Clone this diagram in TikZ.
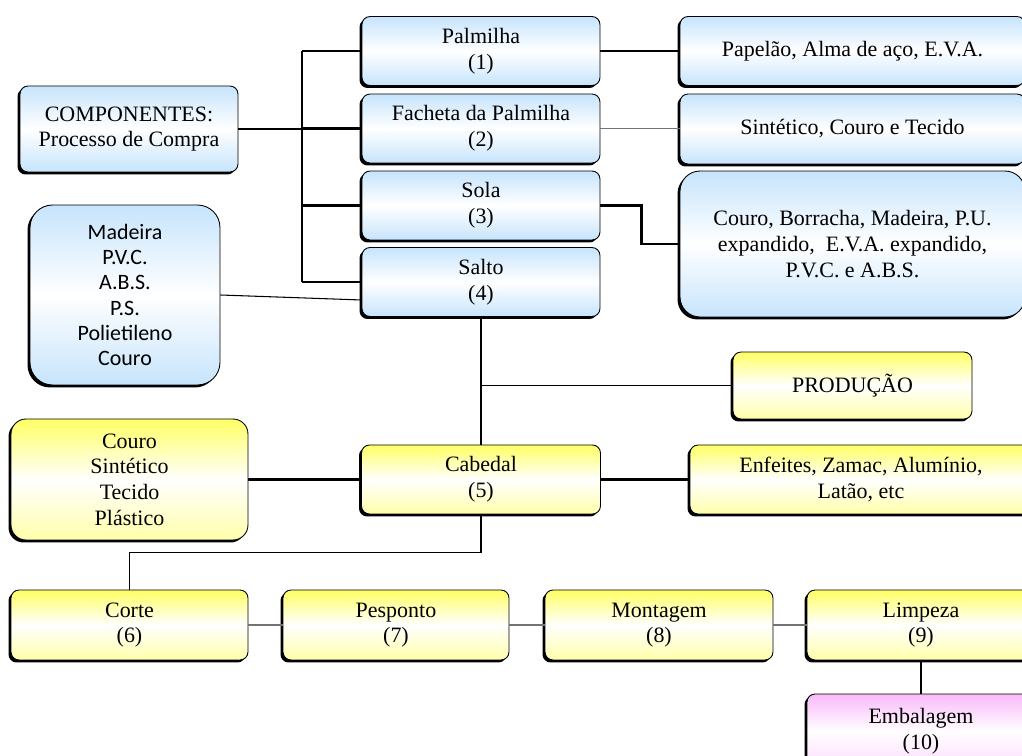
\documentclass[tikz,border=0pt]{standalone}
\usepackage{fontspec}
\setmainfont{Liberation Serif}
\newfontfamily\calibri{Carlito}
\usetikzlibrary{shadows}
\definecolor{azul}{RGB}{198,228,252}
\definecolor{amarelo}{RGB}{255,255,100}
\definecolor{amareloclaro}{RGB}{255,255,170}
\definecolor{rosa}{RGB}{250,185,250}

\begin{document}
\begin{tikzpicture}[x=0.02cm,y=-0.02cm,
  caixa/.style={draw=black,line width=0.5pt,rounded corners=0.16cm,align=center,
    inner sep=0pt,font=\fontsize{12.5}{14.6}\selectfont,
    drop shadow={shadow xshift=-0.05cm,shadow yshift=-0.05cm,opacity=1,fill=black}},
  azulbox/.style={caixa,top color=azul,bottom color=azul,middle color=white},
  amarelobox/.style={caixa,top color=amarelo,bottom color=amareloclaro,middle color=white},
  rosabox/.style={caixa,top color=rosa,bottom color=rosa!50,middle color=white},
  fino/.style={line width=0.6pt},
  cinza/.style={line width=0.6pt,black!55},
  grosso/.style={line width=1.7pt}]
\useasboundingbox (0,0) rectangle (1022,756);
\clip (0,0) rectangle (1022,756);

% Componentes
\node[azulbox,minimum width=4.36cm,minimum height=1.72cm] (comp) at (129,129) {COMPONENTES:\\Processo de Compra};
\node[azulbox,minimum width=4.76cm,minimum height=1.38cm] (palm) at (481,51) {Palmilha\\(1)};
\node[azulbox,minimum width=4.76cm,minimum height=1.38cm] (fach) at (481,128.5) {Facheta da Palmilha\\(2)};
\node[azulbox,minimum width=4.76cm,minimum height=1.38cm] (sola) at (481,205.5) {Sola\\(3)};
\node[azulbox,minimum width=4.76cm,minimum height=1.38cm] (salto) at (481,282) {Salto\\(4)};

% Materiais dos componentes
\node[azulbox,minimum width=6.9cm,minimum height=1.38cm] (pap) at (852.5,51) {Papelão, Alma de aço, E.V.A.};
\node[azulbox,minimum width=6.9cm,minimum height=1.40cm] (sint) at (852.5,129) {Sintético, Couro e Tecido};
\node[azulbox,rounded corners=0.4cm,minimum width=6.9cm,minimum height=2.92cm] (solamat) at (852.5,244)
  {Couro, Borracha, Madeira, P.U.\\expandido,\ \ E.V.A. expandido,\\P.V.C. e A.B.S.};
\node[azulbox,rounded corners=0.45cm,minimum width=3.8cm,minimum height=3.6cm,
  font=\calibri\fontsize{12.5}{14.3}\selectfont] (madeira) at (125,295)
  {Madeira\\P.V.C.\\A.B.S.\\P.S.\\Polietileno\\Couro};

% Produção
\node[amarelobox,minimum width=4.78cm,minimum height=1.34cm] (prod) at (852.5,385.5) {PRODUÇÃO};
\node[amarelobox,minimum width=4.78cm,minimum height=1.38cm] (cab) at (481,479.5) {Cabedal\\(5)};
\node[amarelobox,rounded corners=0.3cm,minimum width=4.74cm,minimum height=2.42cm] (cabmat) at (129.5,479.5)
  {Couro\\Sintético\\Tecido\\Plástico};
\node[amarelobox,minimum width=6.84cm,minimum height=1.38cm] (enf) at (861,479.5) {Enfeites, Zamac, Alumínio,\\Latão, etc};
\node[amarelobox,minimum width=4.74cm,minimum height=1.4cm] (corte) at (129.5,625) {Corte\\(6)};
\node[amarelobox,minimum width=4.52cm,minimum height=1.4cm] (pesp) at (396,625) {Pesponto\\(7)};
\node[amarelobox,minimum width=4.56cm,minimum height=1.4cm] (mont) at (659,625) {Montagem\\(8)};
\node[amarelobox,minimum width=4.56cm,minimum height=1.4cm] (limp) at (921,625) {Limpeza\\(9)};
\node[rosabox,minimum width=4.56cm,minimum height=1.48cm] (emb) at (921,731) {Embalagem\\(10)};

% Ligações dos componentes
\coordinate (bt) at (302,51);
\coordinate (bb) at (302,282);
\draw[grosso] (bt) -- (bb);
\draw[line width=1.2pt] (comp.east) -- (comp.east -| bt);
\draw[fino] (bt) -- (palm.west);
\draw[grosso] (fach.west -| bt) -- (fach.west);
\draw[grosso] (sola.west -| bt) -- (sola.west);
\draw[fino] (bb) -- (salto.west);
\draw[fino] (palm.east) -- (pap.west);
\draw[cinza] (fach.east) -- (fach.east -| sint.west);
\draw[grosso] (sola.east) -- ++(41,0) |- (solamat.west);
\draw[fino] (madeira.east) -- ([yshift=-0.36cm]salto.west);

% Ligações da produção
\draw[fino] (salto.south) -- (cab.north);
\draw[fino] (salto.south |- prod.west) -- (prod.west);
\draw[grosso] (cabmat.east) -- (cab.west);
\draw[grosso] (cab.east) -- (enf.west);
\draw[fino] (cab.south) -- ++(0,38) -| (corte.north);
\draw[cinza] (corte.east) -- (pesp.west);
\draw[cinza] (pesp.east) -- (mont.west);
\draw[cinza] (mont.east) -- (limp.west);
\draw[fino] (limp.south) -- (emb.north);
\end{tikzpicture}
\end{document}
